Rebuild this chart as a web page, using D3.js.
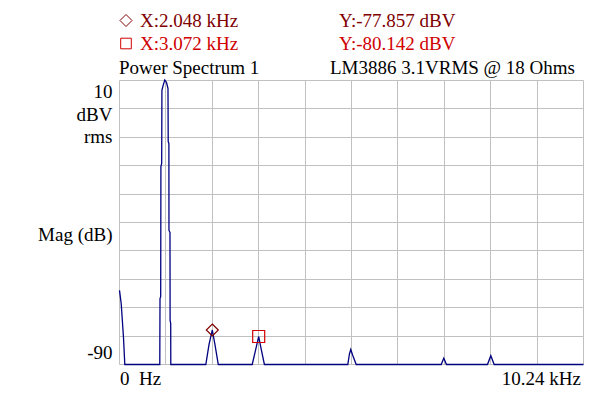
<!DOCTYPE html>
<html><head><meta charset="utf-8">
<script src="https://cdn.jsdelivr.net/npm/d3@7"></script></head>
<body style="margin:0">
<svg id="chart" width="600" height="397" style="display:block"></svg>
<script>
// ---- data ----
const freqKHz = [0, 0.0375, 0.088, 0.117, 0.889, 0.894, 0.909, 0.914, 0.931, 0.936, 0.962, 1.000,
  1.037, 1.070, 1.075, 1.090, 1.092, 1.114, 1.117, 1.130, 1.132,
  1.905, 1.975, 2.048, 2.107, 2.180,
  2.929, 3.000, 3.072, 3.134, 3.198,
  5.038, 5.076, 5.104, 5.148, 5.224,
  7.099, 7.157, 7.216,
  8.121, 8.194, 8.269,
  10.24];
const magDBV = [-63.9, -68.5, -80.5, -90, -90, -66.8, -66.1, -20.3, -19.2, 6.5, 8.2, 10.2,
  9.3, 7.2, -11.5, -12.2, -42.8, -43.5, -74.5, -75.6, -90,
  -90, -83, -77.857, -83, -90,
  -90, -85.1, -80.142, -85.1, -90,
  -90, -86.2, -84.7, -86.8, -90,
  -90, -87.8, -90,
  -90, -86.9, -90,
  -90];

const markerFreq = [2.048, 3.072];
const markerMag = [-77.857, -80.142];
const markerXText = ["X:2.048 kHz", "X:3.072 kHz"];
const markerYText = ["Y:-77.857 dBV", "Y:-80.142 dBV"];
const markerShapes = ["diamond", "square"];
const markerColors = ["#800000", "#d00000"];

const xGridTicks = [0, 1.024, 2.048, 3.072, 4.096, 5.12, 6.144, 7.168, 8.192, 9.216, 10.24];
const yGridTicks = [10, 0, -10, -20, -30, -40, -50, -60, -70, -80, -90];
const titleLeft = "Power Spectrum 1";
const titleRight = "LM3886 3.1VRMS @ 18 Ohms";
const yLabels = ["10", "dBV", "rms"];
const yMidLabel = "Mag (dB)";
const yBottomLabel = "-90";
const xLeftLabel = "0\u00a0\u00a0Hz";
const xRightLabel = "10.24 kHz";

// ---- layout ----
const svg = d3.select("#chart");
const x = d3.scaleLinear().domain([0, 10.24]).range([119.5, 583.5]);
const y = d3.scaleLinear().domain([-90, 10]).range([364.5, 80.5]);

// grid
const grid = svg.append("g").attr("stroke", "#c0c0c0").attr("stroke-width", 1);
grid.selectAll("line.v").data(xGridTicks).join("line").attr("class", "v")
  .attr("x1", d => Math.round(x(d) - 0.5) + 0.5).attr("x2", d => Math.round(x(d) - 0.5) + 0.5)
  .attr("y1", y(10)).attr("y2", y(-90));
grid.selectAll("line.h").data(yGridTicks).join("line").attr("class", "h")
  .attr("y1", d => Math.round(y(d) - 0.5) + 0.5).attr("y2", d => Math.round(y(d) - 0.5) + 0.5)
  .attr("x1", x(0)).attr("x2", x(10.24));

// spectrum line
const pts = freqKHz.map((f, i) => [f, magDBV[i]]);
const line = d3.line().x(d => x(d[0])).y(d => y(d[1]));
svg.append("path").datum(pts).attr("d", line)
  .attr("fill", "none").attr("stroke", "#000080").attr("stroke-width", 1.3)
  .attr("stroke-linejoin", "miter");

// markers
function markerPath(shape, cx, cy, r) {
  if (shape === "diamond") {
    return `M${cx},${cy - r}L${cx + r},${cy}L${cx},${cy + r}L${cx - r},${cy}Z`;
  }
  return `M${cx - r},${cy - r}H${cx + r}V${cy + r}H${cx - r}Z`;
}
markerFreq.forEach((f, i) => {
  svg.append("path")
    .attr("d", markerPath(markerShapes[i], x(f), y(markerMag[i]), 6))
    .attr("fill", "none").attr("stroke", markerColors[i]).attr("stroke-width", 1.2);
});
const rowBase = [27, 50];
markerXText.forEach((t, i) => {
  svg.append("path")
    .attr("d", markerPath(markerShapes[i], 126, rowBase[i] - 6.5, markerShapes[i] === "diamond" ? 6 : 5.3))
    .attr("fill", "none").attr("stroke", markerColors[i]).attr("stroke-width", 1);
});

// all texts, drawn the same way as a data join
const texts = [
  { t: markerXText[0], x: 140, y: 27, a: "start", c: markerColors[0] },
  { t: markerYText[0], x: 339, y: 27, a: "start", c: markerColors[0] },
  { t: markerXText[1], x: 140, y: 50, a: "start", c: markerColors[1] },
  { t: markerYText[1], x: 339, y: 50, a: "start", c: markerColors[1] },
  { t: titleLeft, x: 119, y: 74, a: "start", c: "#000" },
  { t: titleRight, x: 575, y: 74, a: "end", c: "#000" },
  { t: yLabels[0], x: 112.5, y: 98, a: "end", c: "#000" },
  { t: yLabels[1], x: 112.5, y: 121, a: "end", c: "#000" },
  { t: yLabels[2], x: 112.5, y: 143, a: "end", c: "#000" },
  { t: yMidLabel, x: 112.5, y: 241, a: "end", c: "#000" },
  { t: yBottomLabel, x: 112.5, y: 359, a: "end", c: "#000" },
  { t: xLeftLabel, x: 120, y: 385, a: "start", c: "#000" },
  { t: xRightLabel, x: 581, y: 385, a: "end", c: "#000" }
];
svg.selectAll("text.lab").data(texts).join("text").attr("class", "lab")
  .attr("x", d => d.x).attr("y", d => d.y)
  .attr("font-size", 19).attr("font-family", d => "Liberation Serif")
  .attr("text-anchor", d => d.a).attr("fill", d => d.c)
  .text(d => d.t);
</script></body></html>
